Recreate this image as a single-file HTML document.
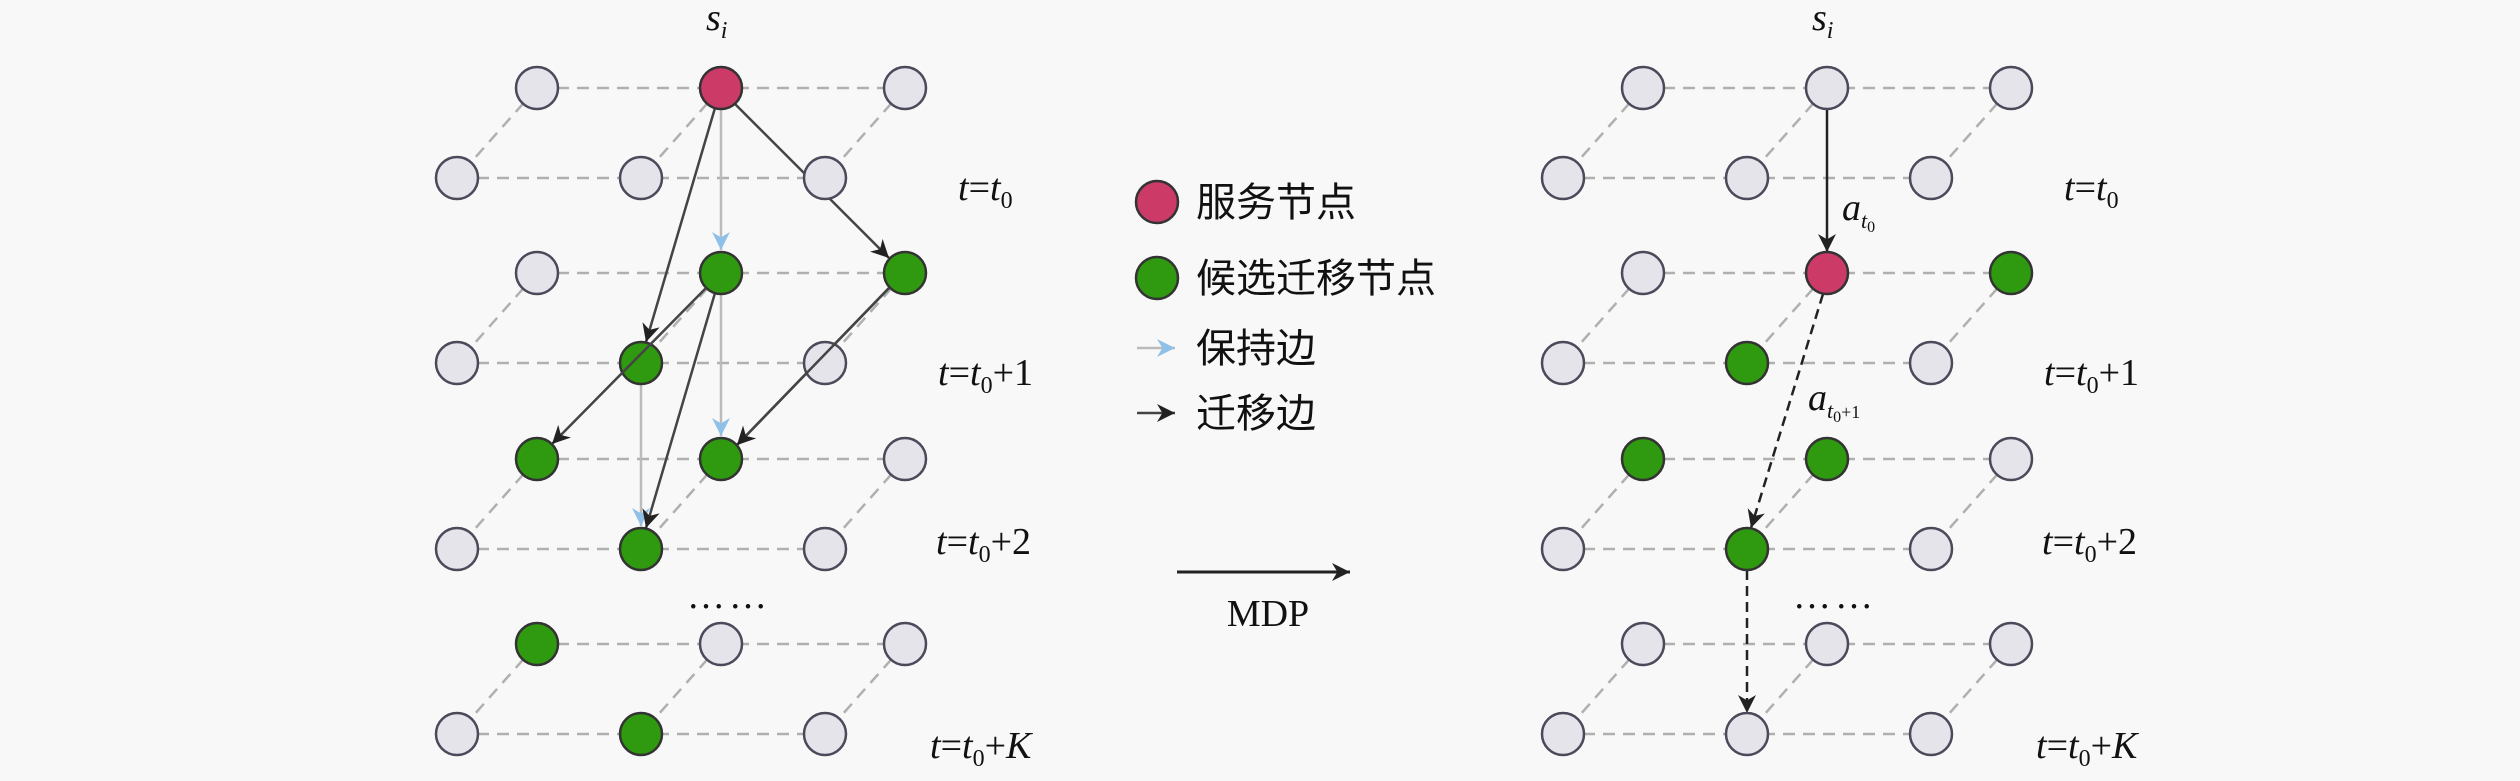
<!DOCTYPE html>
<html><head><meta charset="utf-8"><style>
html,body{margin:0;padding:0;background:#f8f8f8;}
svg{display:block;}
.lab{font-family:"Liberation Serif",serif;font-size:38px;fill:#111;}
.it{font-style:italic;}
.cn{font-family:"Liberation Sans","Noto Sans CJK SC",sans-serif;font-size:40px;fill:#111;}
</style></head><body>
<svg width="2520" height="781" viewBox="0 0 2520 781" xmlns="http://www.w3.org/2000/svg">
<defs>
<marker id="ak" viewBox="0 0 10 10" markerWidth="18" markerHeight="18" refX="10" refY="5" orient="auto" markerUnits="userSpaceOnUse"><path d="M0,0 L10,5 L0,10 L3,5 z" fill="#222"/></marker>
<marker id="al" viewBox="0 0 10 10" markerWidth="18" markerHeight="18" refX="10" refY="5" orient="auto" markerUnits="userSpaceOnUse"><path d="M0,0 L10,5 L0,10 L3,5 z" fill="#8fc0e8"/></marker>
</defs>
<rect width="2520" height="781" fill="#f8f8f8"/>
<g id="grid" stroke="#b0b0b0" stroke-width="2.5" stroke-dasharray="12,8" fill="none">
</g>
<script>
(function(){
var svg=document.currentScript.parentNode;
var NS="http://www.w3.org/2000/svg";
function el(n,a,p){var e=document.createElementNS(NS,n);for(var k in a)e.setAttribute(k,a[k]);(p||svg).appendChild(e);return e;}
var layers=[[88,178],[273,363],[459,549],[644,734]];
var back=[537,721,905],front=[457,641,825];
var grid=document.getElementById('grid');
function draw(off){
 layers.forEach(function(L){
  el('line',{x1:back[0]+off,y1:L[0],x2:back[2]+off,y2:L[0]},grid);
  el('line',{x1:front[0]+off,y1:L[1],x2:front[2]+off,y2:L[1]},grid);
  for(var c=0;c<3;c++)el('line',{x1:back[c]+off,y1:L[0],x2:front[c]+off,y2:L[1]},grid);
 });
}
draw(0);draw(1106);
window.__nodes=function(off,col){
 layers.forEach(function(L,li){
  for(var c=0;c<3;c++){
   [['b',back[c],L[0]],['f',front[c],L[1]]].forEach(function(n){
    var k=li+n[0]+c;var t=col[k]||'g';
    var fill=t=='r'?'#cc3a68':t=='G'?'#2f9a0f':'#e4e4ea';
    var stroke=t=='g'?'#4a4a5a':'#333';
    el('ellipse',{cx:n[1]+off,cy:n[2],rx:21,ry:21,fill:fill,stroke:stroke,'stroke-width':2.5});
   });
  }
 });
};
})();
</script>
<!-- left arrows -->
<g fill="none" stroke-width="2.5">
<line x1="721" y1="109" x2="721" y2="250" stroke="#bbb" marker-end="url(#al)"/>
<line x1="641" y1="384" x2="641" y2="526" stroke="#bbb" marker-end="url(#al)"/>
<line x1="721" y1="294" x2="721" y2="436" stroke="#bbb" marker-end="url(#al)"/>
<line x1="715" y1="108" x2="646" y2="342" stroke="#444" marker-end="url(#ak)"/>
<line x1="735" y1="104" x2="889" y2="258" stroke="#444" marker-end="url(#ak)"/>
<line x1="715" y1="293" x2="646" y2="528" stroke="#444" marker-end="url(#ak)"/>
<line x1="889" y1="288" x2="737" y2="445" stroke="#444" marker-end="url(#ak)"/>
</g>
<!-- right arrows -->
<g fill="none" stroke-width="2.5">
<line x1="1827" y1="109" x2="1827" y2="252" stroke="#222" marker-end="url(#ak)"/>
<line x1="1823" y1="294" x2="1751" y2="528" stroke="#222" stroke-dasharray="10,6" marker-end="url(#ak)"/>
<line x1="1747" y1="570" x2="1747" y2="713" stroke="#222" stroke-dasharray="10,6" marker-end="url(#ak)"/>
</g>
<script>
window.__nodes(0,{'0b1':'r','1b1':'G','1b2':'G','1f1':'G','2b0':'G','2b1':'G','2f1':'G','3b0':'G','3f1':'G'});
window.__nodes(1106,{'1b1':'r','1b2':'G','1f1':'G','2b0':'G','2b1':'G','2f1':'G'});
</script>
<!-- arrows drawn over nodes -->
<g fill="none" stroke-width="2.5">
<line x1="706" y1="288" x2="552" y2="444" stroke="#444" marker-end="url(#ak)"/>
<line x1="889" y1="288" x2="737" y2="445" stroke="#444" marker-end="url(#ak)"/>
</g>
<!-- labels -->
<text class="lab it" x="706" y="30" font-size="38">s<tspan font-size="24" dy="8">i</tspan></text>
<text class="lab it" x="1812" y="30" font-size="38">s<tspan font-size="24" dy="8">i</tspan></text>
<g class="lab">
<text x="958" y="200"><tspan class="it">t</tspan>=<tspan class="it">t</tspan><tspan font-size="24" dy="8">0</tspan></text>
<text x="938" y="385"><tspan class="it">t</tspan>=<tspan class="it">t</tspan><tspan font-size="24" dy="8">0</tspan><tspan dy="-8">+1</tspan></text>
<text x="936" y="554"><tspan class="it">t</tspan>=<tspan class="it">t</tspan><tspan font-size="24" dy="8">0</tspan><tspan dy="-8">+2</tspan></text>
<text x="930" y="758"><tspan class="it">t</tspan>=<tspan class="it">t</tspan><tspan font-size="24" dy="8">0</tspan><tspan dy="-8">+</tspan><tspan class="it">K</tspan></text>
<text x="2064" y="200"><tspan class="it">t</tspan>=<tspan class="it">t</tspan><tspan font-size="24" dy="8">0</tspan></text>
<text x="2044" y="385"><tspan class="it">t</tspan>=<tspan class="it">t</tspan><tspan font-size="24" dy="8">0</tspan><tspan dy="-8">+1</tspan></text>
<text x="2042" y="554"><tspan class="it">t</tspan>=<tspan class="it">t</tspan><tspan font-size="24" dy="8">0</tspan><tspan dy="-8">+2</tspan></text>
<text x="2036" y="758"><tspan class="it">t</tspan>=<tspan class="it">t</tspan><tspan font-size="24" dy="8">0</tspan><tspan dy="-8">+</tspan><tspan class="it">K</tspan></text>
<text x="1842" y="220"><tspan class="it">a</tspan><tspan class="it" font-size="22" dy="8">t</tspan><tspan font-size="16" dy="4">0</tspan></text>
<text x="1808" y="410"><tspan class="it">a</tspan><tspan class="it" font-size="22" dy="8">t</tspan><tspan font-size="16" dy="4">0</tspan><tspan font-size="18" dy="-4">+1</tspan></text>
<text x="1268" y="626" text-anchor="middle">MDP</text>
</g>
<text class="lab" x="687" y="608" font-size="30" letter-spacing="4">……</text>
<text class="lab" x="1793" y="608" font-size="30" letter-spacing="4">……</text>
<!-- legend -->
<circle cx="1157" cy="202" r="21" fill="#cc3a68" stroke="#333" stroke-width="2.5"/>
<circle cx="1157" cy="278" r="21" fill="#2f9a0f" stroke="#333" stroke-width="2.5"/>
<line x1="1137" y1="348" x2="1175" y2="348" stroke="#bbb" stroke-width="2.5" marker-end="url(#al)"/>
<line x1="1137" y1="413" x2="1175" y2="413" stroke="#444" stroke-width="2.5" marker-end="url(#ak)"/>
<text class="cn" x="1196" y="216">服务节点</text>
<text class="cn" x="1196" y="292">候选迁移节点</text>
<text class="cn" x="1196" y="362">保持边</text>
<text class="cn" x="1196" y="427">迁移边</text>
<line x1="1177" y1="572" x2="1350" y2="572" stroke="#222" stroke-width="3" marker-end="url(#ak)"/>
</svg>
</body></html>
